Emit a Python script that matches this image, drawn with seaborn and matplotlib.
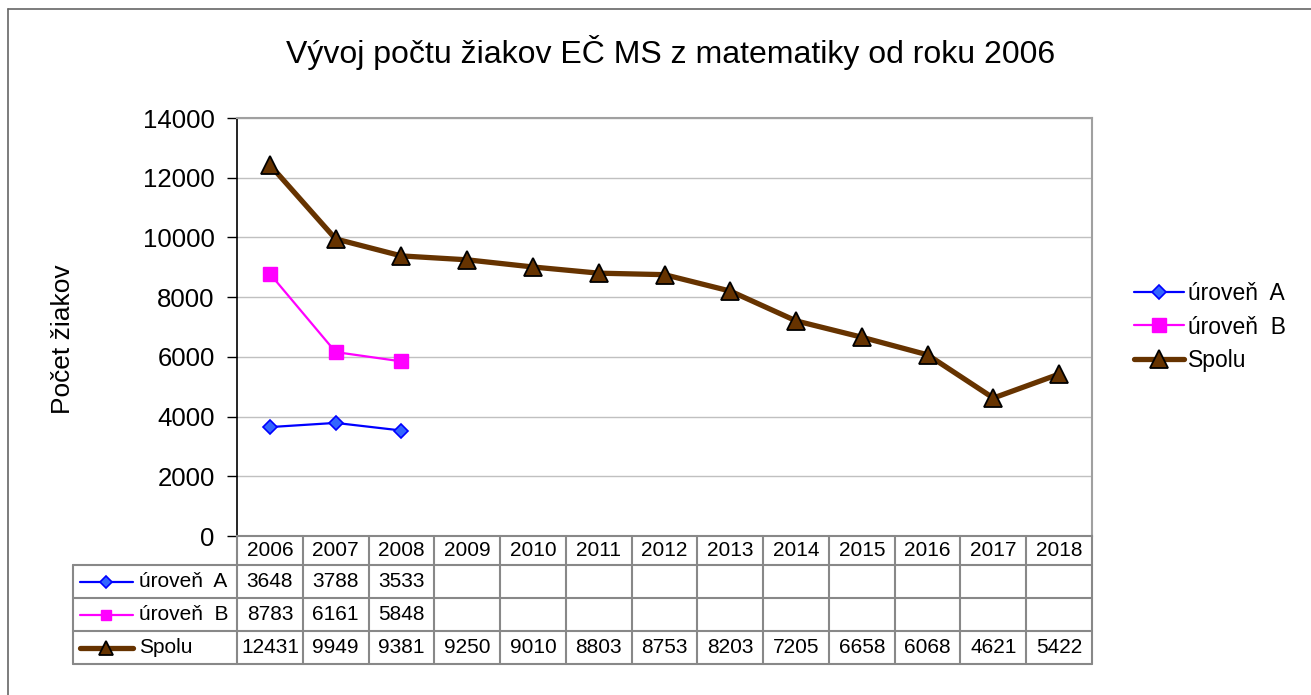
import matplotlib
matplotlib.use('Agg')
import matplotlib.pyplot as plt
from matplotlib.lines import Line2D
import seaborn as sns
import pandas as pd
import numpy as np

# data
years = ['2006', '2007', '2008', '2009', '2010', '2011', '2012',
         '2013', '2014', '2015', '2016', '2017', '2018']
uroven_a = [3648, 3788, 3533]
uroven_b = [8783, 6161, 5848]
spolu = [12431, 9949, 9381, 9250, 9010, 8803, 8753, 8203, 7205, 6658, 6068, 4621, 5422]

series_names = ['úroveň  A', 'úroveň  B', 'Spolu']
series_values = [uroven_a, uroven_b, spolu]

title = 'Vývoj počtu žiakov EČ MS z matematiky od roku 2006'
ylabel = 'Počet žiakov'

styles = {
    'úroveň  A': dict(color='#0000FF', lw=1.6, marker='D', ms=7.5, mfc='#3366FF', mec='#0000FF', mew=1.2),
    'úroveň  B': dict(color='#FF00FF', lw=1.6, marker='s', ms=10, mfc='#FF00FF', mec='#FF00FF', mew=1),
    'Spolu': dict(color='#663300', lw=3.8, marker='^', ms=13, mfc='#663300', mec='black', mew=1.3),
}

sns.set_style('white')
plt.rcParams['font.family'] = ['Liberation Sans', 'DejaVu Sans']
plt.rcParams['text.color'] = 'black'
plt.rcParams['axes.labelcolor'] = 'black'
plt.rcParams['ytick.color'] = 'black'

W, H = 1311, 695
fig = plt.figure(figsize=(W / 100, H / 100), dpi=100)

# plot area in pixels
px_l, px_r, px_t, px_b = 237, 1092, 118, 536
tb_b = 664
ax = fig.add_axes([px_l / W, 1 - px_b / H, (px_r - px_l) / W, (px_b - px_t) / H])

rows = []
for name, vals in zip(series_names, series_values):
    for i, v in enumerate(vals):
        rows.append({'x': i, 'value': v, 'serie': name})
df = pd.DataFrame(rows)

for name in series_names:
    st = styles[name]
    sns.lineplot(data=df[df['serie'] == name], x='x', y='value', ax=ax,
                 color=st['color'], linewidth=st['lw'], marker=st['marker'],
                 markersize=st['ms'], markerfacecolor=st['mfc'],
                 markeredgecolor=st['mec'], markeredgewidth=st['mew'],
                 label=name, zorder=3)

ax.set_xlim(-0.5, len(years) - 0.5)
ax.set_ylim(0, 14000)
ax.set_yticks(np.arange(0, 14001, 2000))
ax.set_xticks([])
ax.set_xlabel('')
ax.set_ylabel(ylabel, fontsize=19)
ax.yaxis.set_label_coords(-0.19, 0.47)
ax.tick_params(axis='y', labelsize=18.5, direction='out', length=7, width=1, left=True,
               color='black', labelcolor='black', pad=9)
ax.grid(axis='y', color='#c0c0c0', lw=1)
ax.set_axisbelow(True)
for s in ['top', 'right']:
    ax.spines[s].set_color('#a0a0a0')
    ax.spines[s].set_linewidth(1.5)
ax.spines['left'].set_color('black')
ax.spines['left'].set_linewidth(1.2)
ax.spines['bottom'].set_color('#888888')
ax.spines['bottom'].set_linewidth(1.5)

leg = ax.legend(loc='center left', bbox_to_anchor=(1.025, 0.5), frameon=False,
                fontsize=16.5, handlelength=2.2, handletextpad=0.15, labelspacing=0.45)

fig.text(671 / W, 1 - 52 / H, title, ha='center', va='center', fontsize=23)

# data table under the plot
tax = fig.add_axes([px_l / W, 1 - tb_b / H, (px_r - px_l) / W, (tb_b - px_b) / H])
tax.set_xlim(-0.5, len(years) - 0.5)
tax.set_ylim(4, 0)
tax.axis('off')
row_h = [0, 0.92, 1.94, 2.97, 4]  # header row a bit shorter
colw = (px_r - px_l) / len(years)
lab_l = -0.5 - (px_l - 73) / colw
gc = '#888888'
fs_tab = 15

for i in range(len(years) + 1):
    tax.plot([i - 0.5, i - 0.5], [0, 4], color=gc, lw=1.5, clip_on=False)
for y in row_h[1:]:
    tax.plot([lab_l, len(years) - 0.5], [y, y], color=gc, lw=1.5, clip_on=False)
tax.plot([lab_l, lab_l], [row_h[1], 4], color=gc, lw=1.5, clip_on=False)

for i, yr in enumerate(years):
    tax.text(i, row_h[0] / 2 + row_h[1] / 2, yr, ha='center', va='center', fontsize=fs_tab)

for r, (name, vals) in enumerate(zip(series_names, series_values)):
    yc = (row_h[r + 1] + row_h[r + 2]) / 2
    st = styles[name]
    x0 = lab_l + 7 / colw
    x1 = lab_l + 60 / colw
    tax.plot([x0, x1], [yc, yc], color=st['color'], lw=st['lw'], clip_on=False, solid_capstyle='round')
    tax.plot([(x0 + x1) / 2], [yc], marker=st['marker'], ms=st['ms'] * 0.75, mfc=st['mfc'],
             mec=st['mec'], mew=st['mew'], clip_on=False, ls='none')
    tax.text(lab_l + 66 / colw, yc, name, ha='left', va='center', fontsize=fs_tab)
    for i, v in enumerate(vals):
        tax.text(i, yc, str(v), ha='center', va='center', fontsize=fs_tab)

# outer chart border
fig.add_artist(Line2D([8 / W, 1], [1 - 9 / H, 1 - 9 / H], color='#666666', lw=1.2))
fig.add_artist(Line2D([8 / W, 8 / W], [0, 1 - 9 / H], color='#666666', lw=1.2))

fig.savefig('out.png', dpi=100)
